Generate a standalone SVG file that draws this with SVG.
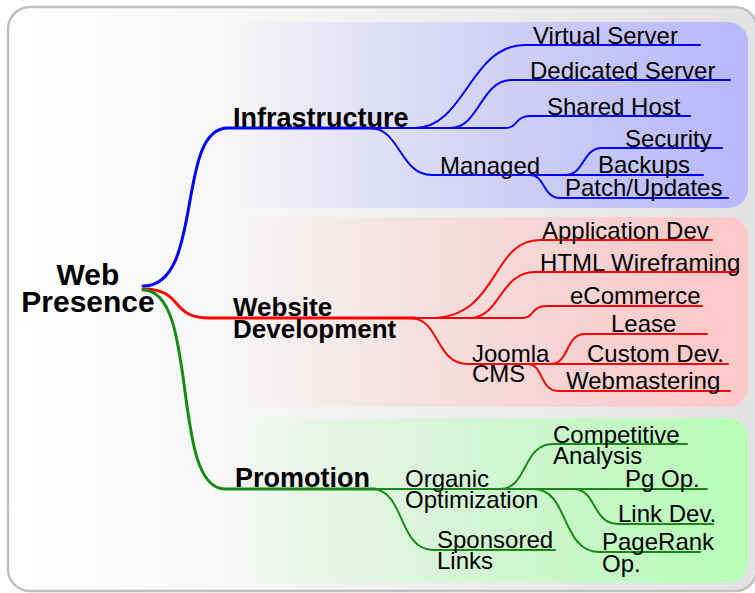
<svg xmlns="http://www.w3.org/2000/svg" width="755" height="593" viewBox="0 0 755 593">
<defs>
<linearGradient id="bg" x1="0" y1="0" x2="1" y2="0">
<stop offset="0" stop-color="#ffffff"/>
<stop offset="1" stop-color="#e2e2e2"/>
</linearGradient>
<linearGradient id="gBlue" x1="0" y1="0" x2="1" y2="0">
<stop offset="0" stop-color="#b8b8ff" stop-opacity="0"/>
<stop offset="1" stop-color="#b8b8ff" stop-opacity="1"/>
</linearGradient>
<linearGradient id="gRed" x1="0" y1="0" x2="1" y2="0">
<stop offset="0" stop-color="#ffc8c8" stop-opacity="0"/>
<stop offset="1" stop-color="#ffc8c8" stop-opacity="1"/>
</linearGradient>
<linearGradient id="gGreen" x1="0" y1="0" x2="1" y2="0">
<stop offset="0" stop-color="#b8ffb8" stop-opacity="0"/>
<stop offset="1" stop-color="#b8ffb8" stop-opacity="1"/>
</linearGradient>
</defs>
<style>
text{font-family:"Liberation Sans",Arial,sans-serif;fill:#000;}
.leaf{font-size:24px;}
.main{font-size:26px;font-weight:bold;}
.root{font-size:30px;font-weight:bold;text-anchor:middle;}
.c{fill:none;stroke-linecap:round;}
.b{stroke:#0000ff;}
.r{stroke:#ff0000;}
.g{stroke:#158a15;}
.thick{stroke-width:3;}
.thin{stroke-width:2;}
</style>
<rect x="8" y="7" width="749" height="584" rx="22" fill="url(#bg)" stroke="#c0c0c0" stroke-width="2.5"/>
<rect x="220" y="22" width="528" height="186" rx="20" fill="url(#gBlue)"/>
<rect x="220" y="217" width="528" height="190" rx="20" fill="url(#gRed)"/>
<rect x="220" y="418" width="528" height="165" rx="20" fill="url(#gGreen)"/>
<g id="connectors">
<path class="c b thick" d="M143,286 C205,286 175,128 228,128 L375,128"/>
<path class="c b thin" d="M370,128 L415,128 C465,128 470,45 525,45 L700,45"/>
<path class="c b thin" d="M370,128 L450,128 C480,128 480,80 512,80 L730,80"/>
<path class="c b thin" d="M370,128 L505,128 C518,128 515,116 530,116 L690,116"/>
<path class="c b thin" d="M370,128 C400,128 400,175 432,175 L703,175"/>
<path class="c b thin" d="M565,175 C585,175 582,148 602,148 L722,148"/>
<path class="c b thin" d="M530,175 C545,175 543,198 560,198 L728,198"/>
<path class="c r thick" d="M143,289 C185,289 168,318 210,318 L415,318"/>
<path class="c r thin" d="M410,318 L430,318 C500,318 490,240 540,240 L712,240"/>
<path class="c r thin" d="M410,318 L470,318 C500,318 500,272 535,272 L738,272"/>
<path class="c r thin" d="M410,318 L522,318 C535,318 530,306 547,306 L702,306"/>
<path class="c r thin" d="M410,318 C440,318 435,364 468,364 L728,364"/>
<path class="c r thin" d="M550,364 C570,364 565,334 585,334 L707,334"/>
<path class="c r thin" d="M528,364 C543,364 540,391 558,391 L730,391"/>
<path class="c g thick" d="M143,290 C200,290 170,489 225,489 L375,489"/>
<path class="c g thin" d="M372,489 L707,489"/>
<path class="c g thin" d="M500,489 C528,489 522,444 553,444 L687,444"/>
<path class="c g thin" d="M573,489 C597,489 592,524 618,524 L713,524"/>
<path class="c g thin" d="M533,489 C570,489 560,552 600,552 L700,552"/>
<path class="c g thin" d="M372,489 C405,489 398,550 433,550 L555,550"/>
</g>
<g id="web-presence"><text class="root" x="88" y="285">Web</text><text class="root" x="88" y="312">Presence</text></g>
<g id="infrastructure"><text class="main" x="233" y="127" style="font-size:27px">Infrastructure</text></g>
<g id="virtual-server"><text class="leaf" x="533" y="44">Virtual Server</text></g>
<g id="dedicated-server"><text class="leaf" x="530" y="79">Dedicated Server</text></g>
<g id="shared-host"><text class="leaf" x="547" y="115">Shared Host</text></g>
<g id="managed"><text class="leaf" x="440" y="174">Managed</text></g>
<g id="security"><text class="leaf" x="625" y="147">Security</text></g>
<g id="backups"><text class="leaf" x="598" y="173">Backups</text></g>
<g id="patch-updates"><text class="leaf" x="565" y="196">Patch/Updates</text></g>
<g id="website-development"><text class="main" x="233" y="316">Website</text><text class="main" x="233" y="338">Development</text></g>
<g id="application-dev"><text class="leaf" x="542" y="239">Application Dev</text></g>
<g id="html-wireframing"><text class="leaf" x="540" y="271">HTML Wireframing</text></g>
<g id="ecommerce"><text class="leaf" x="570" y="304">eCommerce</text></g>
<g id="joomla-cms"><text class="leaf" x="472" y="362">Joomla</text><text class="leaf" x="472" y="382">CMS</text></g>
<g id="lease"><text class="leaf" x="611" y="332">Lease</text></g>
<g id="custom-dev"><text class="leaf" x="587" y="362">Custom Dev.</text></g>
<g id="webmastering"><text class="leaf" x="566" y="389">Webmastering</text></g>
<g id="promotion"><text class="main" x="235" y="487" style="font-size:27px">Promotion</text></g>
<g id="organic-optimization"><text class="leaf" x="405" y="487">Organic</text><text class="leaf" x="405" y="508">Optimization</text></g>
<g id="competitive-analysis"><text class="leaf" x="553" y="443">Competitive</text><text class="leaf" x="553" y="464">Analysis</text></g>
<g id="pg-op"><text class="leaf" x="625" y="487">Pg Op.</text></g>
<g id="link-dev"><text class="leaf" x="618" y="522">Link Dev.</text></g>
<g id="pagerank-op"><text class="leaf" x="602" y="550">PageRank</text><text class="leaf" x="602" y="572">Op.</text></g>
<g id="sponsored-links"><text class="leaf" x="437" y="548">Sponsored</text><text class="leaf" x="437" y="569">Links</text></g>
</svg>
